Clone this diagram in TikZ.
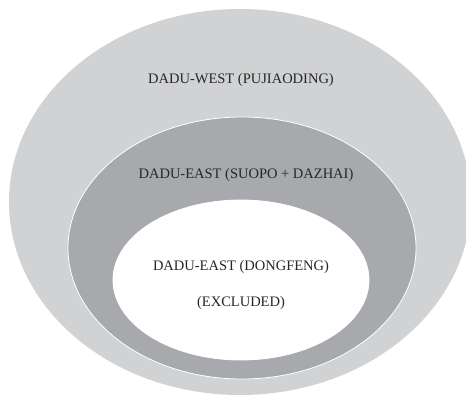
\documentclass[tikz,border=0pt]{standalone}
\usepackage{fontspec}
\setmainfont{Liberation Serif}
\definecolor{westgray}{RGB}{209,210,212}
\definecolor{eastgray}{RGB}{167,169,172}
\tikzset{
  zone/.style={draw=white, line width=0.8pt},
  zonelabel/.style={font=\fontsize{14.5}{16}\selectfont, text=black!85}
}
\begin{document}
\begin{tikzpicture}[x=1pt,y=1pt]
  \useasboundingbox (0,0) rectangle (466,397);
  \clip (0,0) rectangle (466,397);
  % Draw the three nested zones
  \fill[westgray] (240,195) ellipse [x radius=231, y radius=193];
  \filldraw[zone, fill=eastgray] (242,149) ellipse [x radius=174, y radius=131];
  \filldraw[zone, fill=white] (241,117) ellipse [x radius=128, y radius=80];
  % Labels
  \node[zonelabel] (west) at (241,317) {DADU-WEST (PUJIAODING)};
  \node[zonelabel] (suopo) at (246,222) {DADU-EAST (SUOPO + DAZHAI)};
  \node[zonelabel] (dongfeng) at (241,130) {DADU-EAST (DONGFENG)};
  \node[zonelabel] (excluded) at (241,94) {(EXCLUDED)};
\end{tikzpicture}
\end{document}
